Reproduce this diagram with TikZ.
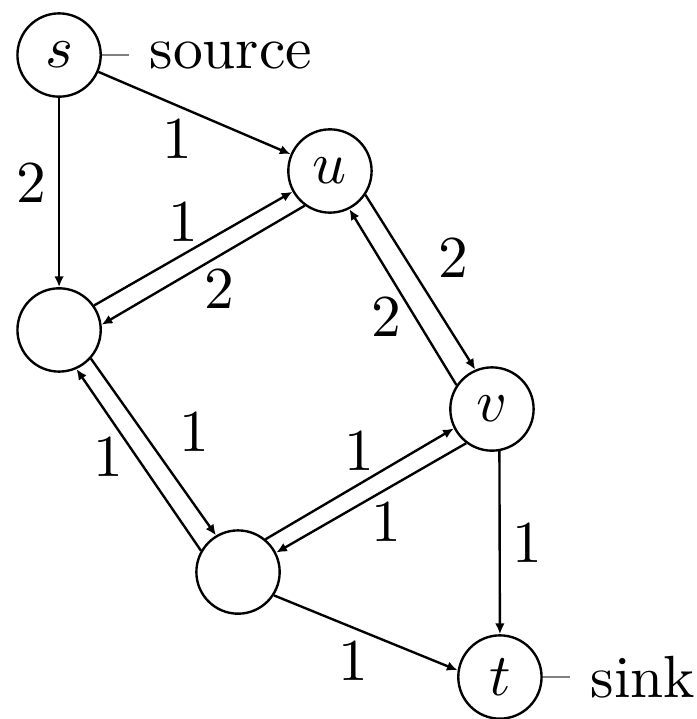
\documentclass[tikz,border=0pt]{standalone}
\usepackage{amsmath}
\usepackage{tikz}
\usetikzlibrary{arrows.meta}

\begin{document}
\begin{tikzpicture}[
  pin distance=4.5pt,
  vertex/.style={circle, draw, minimum size=14pt, inner sep=0pt},
  arr/.style={-{Latex[length=1.8pt,width=1.6pt]}},
  lbl/.style={inner sep=2pt}
]
\useasboundingbox (0,0) rectangle (4.117,4.247);

%% -- Nodes --------------------------------------------------------
\node[vertex, pin=right:source] (s) at (0.349,3.922) {$s$};
\node[vertex] (u) at (1.949,3.237) {$u$};
\node[vertex] (a) at (0.349,2.298) {};
\node[vertex] (v) at (2.906,1.831) {$v$};
\node[vertex] (b) at (1.406,0.868) {};
\node[vertex, pin=right:sink] (t) at (2.953,0.248) {$t$};

%% -- Arrows -------------------------------------------------------
\draw[arr] (s) -- node[lbl, pos=0.45, left]{2} (a);
\draw[arr] (s) -- node[lbl, pos=0.41, below]{1} (u);
\draw[arr] (a.35) -- node[lbl, pos=0.45, above]{1} (u.209);
\draw[arr] (u.234) -- node[lbl, pos=0.42, below]{2} (a.7);
\draw[arr] (u.-34) -- node[lbl, pos=0.55, above right]{2} (v.113);
\draw[arr] (v.146) -- node[lbl, pos=0.39, left]{2} (u.-63);
\draw[arr] (a.-42) -- node[lbl, pos=0.6, above right]{1} (b.121);
\draw[arr] (b.150) -- node[lbl, pos=0.52, left]{1} (a.-66);
\draw[arr] (b.50) -- node[lbl, pos=0.5, above]{1} (v.207);
\draw[arr] (v.233) -- node[lbl, pos=0.42, below]{1} (b.27);
\draw[arr] (v.-80) -- node[lbl, pos=0.5, right]{1} (t.north);
\draw[arr] (b.-33) -- node[lbl, pos=0.43, below]{1} (t.171);

\end{tikzpicture}
\end{document}
